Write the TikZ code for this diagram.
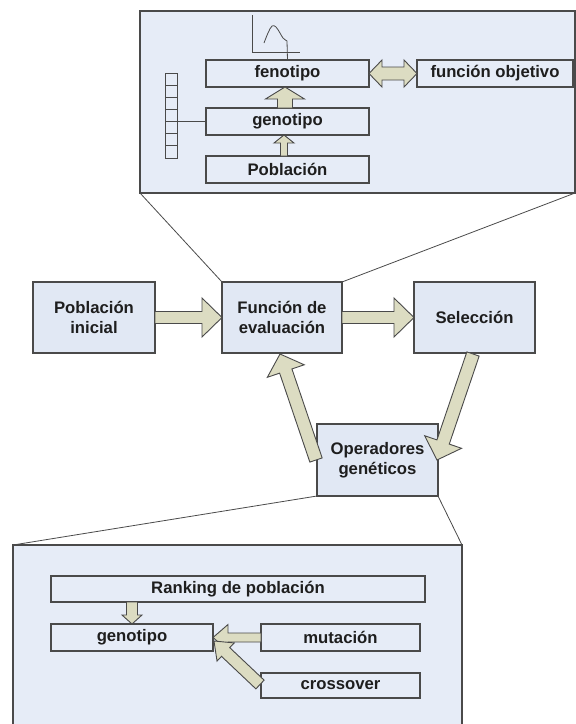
\documentclass[tikz,border=0pt]{standalone}
\usepackage{fontspec}
\setmainfont{Liberation Sans}
\usetikzlibrary{calc}
\definecolor{panelfill}{HTML}{E6ECF7}
\definecolor{boxfill}{HTML}{E1E8F4}
\definecolor{edge}{HTML}{4A4A4A}
\definecolor{arrowfill}{HTML}{DCDCC2}
\definecolor{txt}{HTML}{1E1E1E}
\tikzset{
  panel/.style={draw=edge, fill=panelfill, line width=1.3pt, inner sep=0pt, outer sep=0pt},
  box/.style={draw=edge, fill=boxfill, line width=1.2pt, inner sep=0pt, outer sep=0pt,
    align=center, text=txt, font=\fontsize{16.7}{19.5}\selectfont\bfseries},
  ibox/.style={box, fill=panelfill},
  zoomline/.style={draw=edge, line width=0.8pt},
  blockarrow/.style={draw=edge, fill=arrowfill, line width=0.9pt, line join=miter},
}
% block arrow: tail, tip, shaft half width, head half width, head length
\newcommand{\barrow}[5]{%
  \coordinate (ba-s) at ($(#2)!#5!(#1)$);
  \draw[blockarrow] ($(#1)!#3!90:(#2)$) -- ($(ba-s)!#3!90:(#2)$) -- ($(ba-s)!#4!90:(#2)$)
    -- (#2) -- ($(ba-s)!#4!-90:(#2)$) -- ($(ba-s)!#3!-90:(#2)$) -- ($(#1)!#3!-90:(#2)$) -- cycle;
}
\newcommand{\dbarrow}[5]{%
  \coordinate (da-s) at ($(#2)!#5!(#1)$);
  \coordinate (da-t) at ($(#1)!#5!(#2)$);
  \draw[blockarrow] (#1) -- ($(da-t)!#4!90:(#2)$) -- ($(da-t)!#3!90:(#2)$) -- ($(da-s)!#3!90:(#2)$)
    -- ($(da-s)!#4!90:(#2)$) -- (#2) -- ($(da-s)!#4!-90:(#2)$) -- ($(da-s)!#3!-90:(#2)$)
    -- ($(da-t)!#3!-90:(#2)$) -- ($(da-t)!#4!-90:(#2)$) -- cycle;
}
\begin{document}
\begin{tikzpicture}[x=1pt,y=-1pt]
\useasboundingbox (0,0) rectangle (576,724);

% ---------- main boxes ----------
\node[box, minimum width=122pt, minimum height=71pt] (pobi) at (94,317.5) {Población\\inicial};
\node[box, minimum width=120pt, minimum height=71pt] (fun) at (282,317.5) {Función de\\evaluación};
\node[box, minimum width=121pt, minimum height=71pt] (sel) at (474.5,317.5) {Selección};
\node[box, minimum width=121pt, minimum height=72pt] (op) at (377.5,460) {Operadores\\genéticos};

% ---------- top panel ----------
\node[panel, minimum width=435pt, minimum height=182pt] (top) at (357.5,102) {};
\draw[zoomline] (fun.north west) -- (top.south west);
\draw[zoomline] (fun.north east) -- (top.south east);

\node[ibox, minimum width=163pt, minimum height=27pt] (fen) at (287.5,73.5) {fenotipo};
\node[ibox, minimum width=156pt, minimum height=27pt] (fobj) at (495,73.5) {función objetivo};
\node[ibox, minimum width=163pt, minimum height=27pt] (gen1) at (287.5,121.5) {genotipo};
\node[ibox, minimum width=163pt, minimum height=27pt] (pob1) at (287.5,169.5) {Población};

% cell column
\node[draw=edge, fill=panelfill, line width=0.9pt, inner sep=0pt, outer sep=0pt,
      minimum width=12pt, minimum height=85pt] (cells) at (171,115.5) {};
\foreach \i in {1,...,6} \draw[edge, line width=0.8pt] ($(cells.north west)+(0,\i*12.14)$) -- ++(12,0);
\draw[zoomline] (cells.east |- gen1.west) -- (gen1.west);

% plot
\draw[zoomline] (252,15) -- (252,52) -- (300,52);
\draw[zoomline] plot[smooth, tension=0.6] coordinates {(264,43) (268,33) (272,26) (276,27) (280,33) (283,38) (287,41)} -- (fen.north);

% top arrows
\coordinate (t1a) at ($(gen1.north)+(-2.5,0)$);
\coordinate (t1b) at ($(fen.south)+(-2.5,0)$);
\barrow{t1a}{t1b}{7.5pt}{19.5pt}{12pt}
\coordinate (t2a) at ($(pob1.north)+(-3.5,0)$);
\coordinate (t2b) at ($(gen1.south)+(-3.5,0)$);
\barrow{t2a}{t2b}{3.5pt}{10pt}{8pt}
\dbarrow{fen.east}{fobj.west}{6.5pt}{13.5pt}{13pt}

% ---------- main arrows ----------
\barrow{pobi.east}{fun.west}{6pt}{19.5pt}{20pt}
\barrow{fun.east}{sel.west}{6pt}{19.5pt}{20pt}
\coordinate (m1a) at ($(op.west)+(-1,0)$);
\coordinate (m1b) at ($(fun.south)+(-2,1)$);
\barrow{m1a}{m1b}{6.5pt}{19.5pt}{18pt}
\coordinate (m2a) at ($(sel.south)+(-1.5,1)$);
\coordinate (m2b) at ($(op.east)+(-1,0)$);
\barrow{m2a}{m2b}{6.5pt}{19.5pt}{19pt}

% ---------- bottom panel ----------
\node[panel, minimum width=449pt, minimum height=185pt] (bot) at (237.5,637.5) {};
\draw[zoomline] (op.south west) -- (bot.north west);
\draw[zoomline] (op.south east) -- (bot.north east);

\node[ibox, minimum width=374pt, minimum height=26pt] (rank) at (238,589) {Ranking de población};
\node[ibox, minimum width=162pt, minimum height=27pt] (gen2) at (132,637.5) {genotipo};
\node[ibox, minimum width=159pt, minimum height=27pt] (mut) at (340.5,637.5) {mutación};
\node[ibox, minimum width=159pt, minimum height=25pt] (cross) at (340.5,685.5) {crossover};

\coordinate (b1a) at (rank.south -| gen2.north);
\barrow{b1a}{gen2.north}{5.5pt}{10pt}{9pt}
\barrow{mut.west}{gen2.east}{4.5pt}{13pt}{15pt}
\coordinate (b3a) at ($(cross.west)+(-1,-1)$);
\coordinate (b3b) at ($(gen2.east)+(1,3.5)$);
\barrow{b3a}{b3b}{6pt}{12.5pt}{16pt}
\end{tikzpicture}
\end{document}
